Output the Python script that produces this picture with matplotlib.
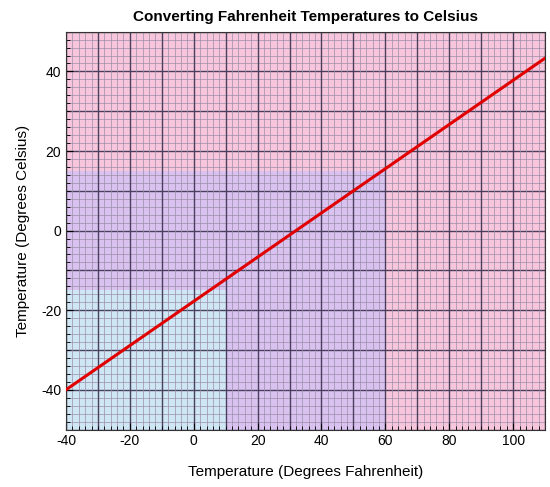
import matplotlib

matplotlib.use("Agg")
import matplotlib.pyplot as plt
import numpy as np
from matplotlib.ticker import MultipleLocator

plt.rcParams["font.family"] = ["Liberation Sans", "DejaVu Sans"]
plt.rcParams["axes.unicode_minus"] = False

fahrenheit = [-40, 110]
celsius = [(f - 32) * 5 / 9 for f in fahrenheit]

# shaded zones: (x_min, x_max, y_min, y_max, colour)
zones = [
    (-40, 110, -50, 50, "#f7c6dc"),
    (-40, 60, -50, 15, "#d9c2f0"),
    (-40, 10, -50, -15, "#cfe6f5"),
]

fig = plt.figure(figsize=(5.5, 4.87), dpi=100)
ax = fig.add_axes([0.12, 0.118, 0.871, 0.817])

for x0, x1, y0, y1, c in zones:
    ax.fill_between([x0, x1], y0, y1, color=c, zorder=0, linewidth=0)

ax.set_xlim(-40, 110)
ax.set_ylim(-50, 50)
ax.xaxis.set_major_locator(MultipleLocator(20))
ax.yaxis.set_major_locator(MultipleLocator(20))
ax.xaxis.set_minor_locator(MultipleLocator(2))
ax.yaxis.set_minor_locator(MultipleLocator(2))

for v in np.arange(-50, 51, 2):
    major = v % 10 == 0
    ax.axhline(v, color="#4a3f5c" if major else "#9a8fa8",
               lw=1.0 if major else 0.5, zorder=1)
for v in np.arange(-40, 111, 2):
    major = v % 10 == 0
    ax.axvline(v, color="#4a3f5c" if major else "#9a8fa8",
               lw=1.0 if major else 0.5, zorder=1)

ax.plot(fahrenheit, celsius, color="#e00000", lw=2.2, zorder=3)

ax.tick_params(which="both", direction="in", labelsize=10)
ax.tick_params(which="major", length=5)
ax.tick_params(which="minor", length=3)
ax.set_title("Converting Fahrenheit Temperatures to Celsius",
             fontsize=11, fontweight="bold", pad=8)
ax.set_xlabel("Temperature (Degrees Fahrenheit)", fontsize=11, labelpad=12)
ax.set_ylabel("Temperature (Degrees Celsius)", fontsize=11, labelpad=8)
for s in ax.spines.values():
    s.set_color("#333333")

fig.savefig("out.png", dpi=100)
